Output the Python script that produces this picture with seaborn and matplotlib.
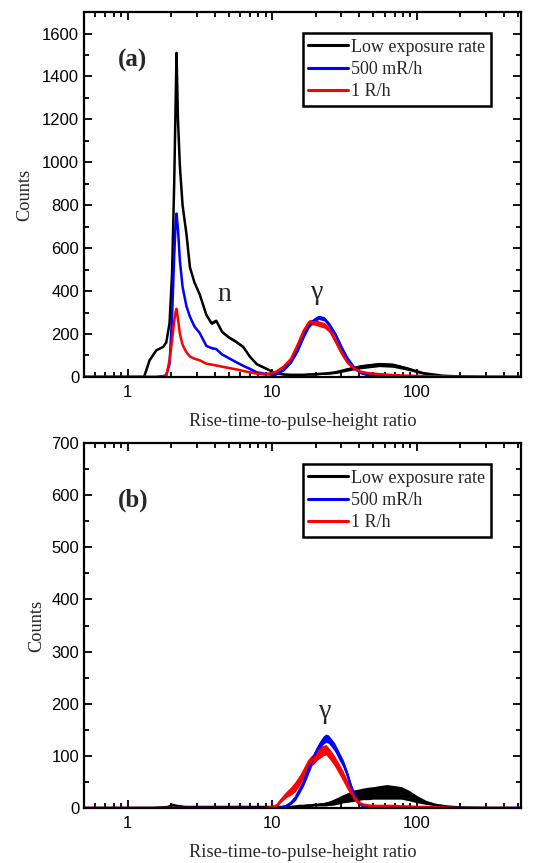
import numpy as np
import pandas as pd
import matplotlib
matplotlib.use("Agg")
import matplotlib.pyplot as plt
import seaborn as sns

# --- panel (a) data ---
xa = [0.5, 1.0, 1.3, 1.42, 1.58, 1.76, 1.85, 1.95, 2.03, 2.1, 2.15, 2.18, 2.23, 2.3,
      2.4, 2.55, 2.7, 2.9, 3.15, 3.5, 3.8, 4.1, 4.5, 5.0, 5.6, 6.3, 7.0, 7.8, 9.0,
      10.5, 12, 13.5, 15, 16.5, 18, 19.5, 21, 23, 25, 27.5, 30, 33, 37, 41, 46, 55,
      68, 85, 110, 150, 200, 300, 525]
low_a = [0, 0, 0, 78, 124, 140, 160, 250, 480, 900, 1290, 1510, 1200, 980,
         800, 668, 510, 440, 385, 290, 250, 262, 210, 185, 165, 140, 95, 60, 40,
         18, 12, 10, 10, 10, 12, 12, 14, 16, 18, 22, 28, 35, 42, 48, 52, 58,
         55, 40, 18, 6, 2, 0, 0]
mid_a = [0, 0, 0, 0, 0, 4, 8, 60, 280, 560, 720, 761, 690, 540,
         420, 330, 280, 235, 205, 145, 135, 130, 105, 88, 70, 52, 38, 22, 14,
         10, 32, 70, 125, 190, 240, 265, 278, 270, 240, 195, 140, 88, 42, 18, 8, 4,
         2, 1, 0, 0, 0, 0, 0]
high_a = [0, 0, 0, 0, 0, 2, 5, 78, 170, 260, 305, 318, 270, 200,
          150, 115, 95, 85, 78, 62, 58, 54, 48, 42, 36, 28, 22, 16, 12,
          22, 48, 85, 150, 215, 255, 255, 248, 240, 218, 165, 115, 70, 38, 24, 18, 13,
          9, 6, 4, 2, 1, 0, 0]
# half-width of the noisy band around each curve
low_a_noise = [0, 0, 0, 0, 0, 0, 0, 0, 0, 0, 0, 0, 0, 0,
               0, 0, 0, 0, 6, 6, 6, 6, 6, 6, 6, 6, 6, 5, 4,
               3, 3, 3, 3, 3, 3, 3, 3, 4, 5, 6, 7, 8, 9, 10, 10, 10,
               10, 8, 5, 2, 0, 0, 0]
mid_a_noise = [0, 0, 0, 0, 0, 0, 0, 0, 0, 0, 0, 0, 0, 0,
               0, 0, 0, 0, 4, 4, 4, 4, 4, 4, 4, 4, 4, 3, 2,
               2, 4, 6, 10, 10, 10, 10, 10, 10, 10, 10, 10, 8, 5, 3, 0, 0,
               0, 0, 0, 0, 0, 0, 0]
high_a_noise = [0, 0, 0, 0, 0, 0, 0, 0, 0, 0, 0, 0, 0, 0,
                0, 0, 0, 0, 3, 3, 3, 3, 3, 3, 3, 3, 3, 3, 3,
                3, 6, 8, 13, 13, 13, 13, 13, 13, 13, 13, 13, 10, 6, 4, 2, 0,
                0, 0, 0, 0, 0, 0, 0]

# --- panel (b) data ---
xb = [0.5, 1.0, 1.5, 1.9, 2.05, 2.2, 2.5, 3, 4, 5, 6, 7, 8, 9, 10, 10.8, 11.5,
      12.5, 13.5, 14.5, 15.5, 16.5, 17.5, 18.5, 19.5, 20.5, 21.5, 22.5, 23.5, 24.5,
      25.5, 27, 29, 31, 33, 35, 37, 39, 42, 46, 50, 55, 62, 70, 78, 88, 100, 115,
      135, 160, 200, 300, 525]
low_b = [0, 0, 0, 2, 6, 4, 2, 2, 2, 2, 2, 2, 2, 2, 2, 2, 2,
         2, 2, 3, 4, 4, 5, 5, 6, 6, 7, 7, 8, 9,
         10, 12, 15, 18, 20, 22, 24, 25, 27, 28, 29, 30, 31, 30, 29, 24, 17, 11,
         6, 3, 1, 0, 0]
mid_b = [0, 0, 0, 0, 0, 0, 0, 0, 0, 0, 0, 0, 0, 0, 0, 0, 1,
         4, 10, 20, 35, 50, 68, 85, 100, 112, 122, 130, 134, 132,
         126, 117, 100, 85, 65, 42, 26, 12, 4, 1, 0, 0, 0, 0, 0, 0, 0, 0,
         0, 0, 0, 0, 0]
high_b = [0, 0, 0, 0, 0, 0, 0, 0, 0, 0, 0, 0, 0, 0, 2, 5, 15,
          26, 33, 42, 54, 68, 82, 90, 95, 102, 106, 110, 112, 106,
          100, 90, 75, 60, 45, 32, 20, 12, 7, 5, 4, 4, 4, 4, 3, 3, 2, 2,
          1, 1, 0, 0, 0]
low_b_noise = [0, 0, 0, 2, 2, 2, 2, 2, 2, 2, 2, 2, 2, 2, 2, 2, 2,
               2, 2, 2, 2, 2, 2, 2, 2, 2, 3, 3, 4, 4,
               5, 6, 7, 8, 9, 10, 11, 11, 11, 12, 12, 13, 14, 13, 12, 10, 7, 4,
               2, 1, 0, 0, 0]
mid_b_noise = [0, 0, 0, 0, 0, 0, 0, 0, 0, 0, 0, 0, 0, 0, 0, 0, 0,
               2, 3, 5, 6, 7, 8, 8, 8, 8, 8, 8, 8, 8,
               8, 8, 8, 7, 6, 5, 4, 2, 1, 0, 0, 0, 0, 0, 0, 0, 0, 0,
               0, 0, 0, 0, 0]
high_b_noise = [0, 0, 0, 0, 0, 0, 0, 0, 0, 0, 0, 0, 0, 0, 1, 2, 4,
                6, 8, 10, 10, 10, 10, 10, 10, 10, 10, 10, 10, 10,
                10, 10, 10, 10, 9, 8, 6, 4, 2, 1, 1, 1, 1, 1, 1, 1, 0, 0,
                0, 0, 0, 0, 0]

labels = ["Low exposure rate", "500 mR/h", "1 R/h"]
colors = ["black", "#0000ff", "#ff0000"]

sns.set_style("ticks")
plt.rcParams['font.family'] = ['Liberation Sans', 'DejaVu Sans']
serif = ['Liberation Serif', 'DejaVu Serif']

fig = plt.figure(figsize=(5.4, 8.63), dpi=100)
ax_a = fig.add_axes([0.1556, 0.5632, 0.8094, 0.4228])
ax_b = fig.add_axes([0.1556, 0.0637, 0.8094, 0.423])


def draw_panel(ax, x, series, noises, ymax, major, minor, tag, tag_y, notes, ylpad):
    x = np.array(x)
    for ys, nz, lab, col in zip(series, noises, labels, colors):
        ys = np.array(ys, float)
        nz = np.array(nz, float)
        ax.fill_between(x, ys - nz, ys + nz, color=col, lw=0)
        df = pd.DataFrame({"x": x, "y": ys})
        sns.lineplot(data=df, x="x", y="y", ax=ax, color=col, lw=1.8,
                     label=lab, sort=False, estimator=None)
    ax.set_xscale("log")
    ax.set_xlim(0.5, 525)
    ax.set_ylim(0, ymax)
    ax.set_xticks([1, 10, 100], ["1", "10", "100"])
    ax.set_yticks(np.arange(0, ymax + 1, major))
    ax.set_yticks(np.arange(0, ymax + 1, minor), minor=True)
    ax.tick_params(which="both", direction="in", top=True, right=True,
                   labelsize=12, width=1.3, colors="black")
    ax.tick_params(which="major", length=6)
    ax.tick_params(which="minor", length=3.5)
    ax.tick_params(axis="x", pad=6)
    for s in ax.spines.values():
        s.set_linewidth(1.6)
        s.set_color("black")
    ax.set_xlabel("Rise-time-to-pulse-height ratio", family=serif, fontsize=13.2,
                  labelpad=9)
    ax.set_ylabel("Counts", family=serif, fontsize=13.2, labelpad=ylpad)
    ax.text(0.112, tag_y, tag, transform=ax.transAxes, family=serif,
            fontsize=18, fontweight="bold", ha="center", va="center")
    for (tx, ty, t) in notes:
        ax.text(tx, ty, t, family=serif, fontsize=20, ha="center", va="center")
    leg = ax.legend(loc="upper right", bbox_to_anchor=(0.931, 0.942),
                    borderaxespad=0, fancybox=False, edgecolor="black",
                    framealpha=1, prop={"family": serif, "size": 13},
                    handlelength=2.2, handletextpad=0.2, labelspacing=0.3,
                    borderpad=0.3)
    leg.get_frame().set_linewidth(1.8)
    for h in leg.get_lines():
        h.set_linewidth(2.2)


draw_panel(ax_a, xa, [low_a, mid_a, high_a], [low_a_noise, mid_a_noise, high_a_noise],
           1700, 200, 100, "(a)", 0.868, [(4.7, 385, "n"), (20.6, 395, "γ")], 6)
draw_panel(ax_b, xb, [low_b, mid_b, high_b], [low_b_noise, mid_b_noise, high_b_noise],
           700, 100, 50, "(b)", 0.844, [(23.1, 185, "γ")], 4)

fig.savefig("out.png", dpi=100)
